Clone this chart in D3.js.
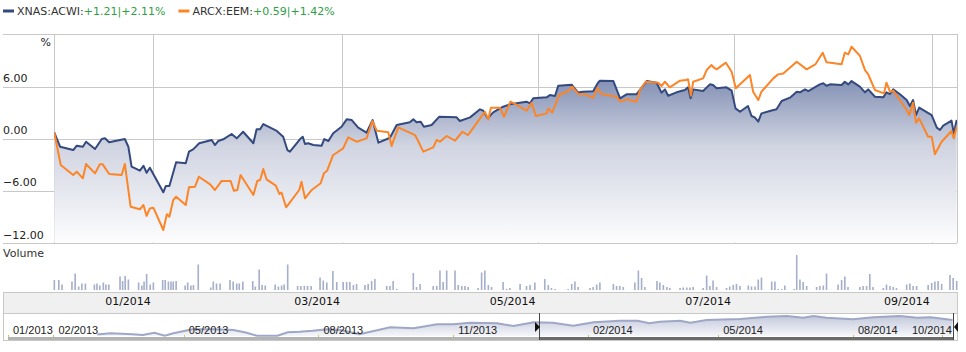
<!DOCTYPE html>
<html>
<head>
<meta charset="utf-8">
<script src="https://cdn.jsdelivr.net/npm/d3@7"></script>
<style>
body{margin:0;background:#fff}
svg{display:block;font-family:"DejaVu Sans",Verdana,sans-serif}
</style>
</head>
<body>
<div id="chart"></div>
<script>
// main chart: days since 2013-12-01 -> % change
const acwi=[[0.1,0.67],[1.9,-0.95],[6.0,-1.33],[7.1,-0.83],[9.0,-0.95],[10.0,-0.37],[12.8,-1.21],[14.9,-0.06],[15.9,0.02],[17.2,-0.44],[22.1,-0.06],[23.2,-0.95],[24.2,-3.25],[26.8,-3.71],[27.9,-3.14],[28.9,-3.95],[29.9,-3.37],[34.1,-6.21],[34.9,-5.48],[36.0,-5.48],[38.1,-2.75],[41.1,-2.86],[42.1,-1.52],[43.4,-1.25],[45.3,-0.55],[49.2,-0.17],[50.2,-0.75],[51.2,-0.29],[52.8,-0.09],[55.4,0.52],[57.0,0.02],[59.0,0.78],[62.2,-0.55],[63.2,1.06],[64.3,1.06],[65.3,1.67],[69.5,0.87],[71.5,0.21],[72.8,-1.33],[73.6,-1.52],[76.7,-0.09],[77.6,0.21],[78.3,-0.63],[79.3,-0.55],[80.9,-0.75],[83.5,-0.83],[84.3,-0.06],[85.6,-0.29],[87.1,0.60],[89.7,1.36],[91.3,2.21],[92.9,2.13],[94.9,1.25],[97.5,0.67],[99.4,2.13],[101.2,-0.48],[104.8,0.09],[106.9,1.56],[111.0,1.87],[112.1,2.21],[113.1,1.87],[114.4,1.94],[115.4,1.36],[117.8,1.56],[120.2,2.52],[125.6,2.44],[126.6,2.02],[129.8,2.44],[132.9,3.37],[133.9,3.21],[135.3,2.33],[137.0,3.02],[140.1,3.67],[142.2,3.94],[144.3,4.06],[147.4,4.25],[148.5,4.06],[149.5,4.64],[153.7,4.75],[154.7,5.02],[156.3,4.90],[157.3,6.09],[161.5,6.21],[163.5,5.30],[164.9,5.40],[168.2,5.45],[169.8,6.48],[170.3,6.67],[174.5,6.63],[176.6,4.64],[178.6,5.10],[181.7,5.10],[184.9,6.63],[188.0,6.44],[189.5,5.29],[190.6,5.67],[191.6,4.94],[194.2,5.33],[196.8,5.60],[197.8,5.91],[198.6,4.64],[199.4,5.67],[202.5,5.48],[204.6,6.25],[205.6,6.17],[206.7,5.79],[209.8,5.91],[211.4,5.52],[212.6,3.48],[214.0,3.09],[216.5,3.75],[217.6,2.60],[218.6,2.44],[219.7,1.94],[220.7,2.90],[223.3,3.17],[225.4,3.37],[227.0,4.33],[229.6,4.71],[231.7,5.40],[232.7,5.33],[234.3,5.67],[235.3,5.48],[238.9,6.25],[240.0,6.37],[241.0,6.09],[242.1,6.25],[245.7,6.17],[246.7,6.55],[247.8,6.25],[248.8,6.63],[251.4,5.98],[253.0,5.33],[254.0,5.67],[256.1,4.82],[258.7,4.75],[259.7,5.33],[260.8,5.13],[261.8,5.67],[263.9,5.10],[266.0,4.44],[267.0,3.75],[268.0,4.44],[268.9,2.71],[269.9,3.56],[273.8,2.71],[275.4,1.25],[276.4,0.98],[277.4,1.48],[280.0,2.06],[280.7,0.60],[281.6,2.13]];

const eem=[[0.1,0.67],[2.1,-3.06],[6.0,-4.21],[7.1,-3.83],[9.0,-4.60],[10.0,-2.94],[12.8,-4.02],[14.3,-2.98],[15.2,-2.98],[17.2,-4.10],[21.1,-4.21],[22.1,-2.94],[23.9,-7.87],[26.8,-8.17],[27.9,-7.67],[28.9,-8.94],[29.9,-8.06],[31.0,-7.98],[34.1,-10.56],[35.2,-8.75],[36.0,-9.02],[37.2,-7.10],[38.1,-6.71],[41.1,-7.67],[42.1,-5.63],[44.0,-5.56],[45.2,-4.41],[48.7,-5.29],[50.2,-5.94],[52.3,-4.90],[55.1,-4.90],[56.1,-6.02],[57.2,-5.94],[58.2,-4.21],[62.2,-6.52],[63.4,-4.90],[64.3,-4.79],[65.3,-3.52],[66.3,-4.71],[69.2,-5.44],[70.3,-6.40],[71.0,-6.25],[72.4,-7.94],[73.6,-7.36],[76.5,-5.94],[77.2,-4.98],[78.3,-6.90],[80.4,-5.94],[83.2,-5.17],[84.2,-4.02],[85.2,-3.71],[87.1,-1.90],[88.2,-1.64],[90.2,-1.13],[91.8,0.14],[94.4,-0.37],[97.5,0.02],[99.3,2.02],[100.7,0.90],[104.3,0.71],[105.3,-0.87],[107.4,1.29],[112.6,0.40],[113.6,-0.29],[115.2,-1.52],[118.3,-1.02],[119.4,-0.17],[120.4,-0.37],[122.5,0.29],[125.1,-0.25],[127.4,0.78],[129.2,0.40],[131.8,1.75],[134.4,3.09],[135.5,2.21],[136.3,3.55],[139.1,3.55],[140.4,2.52],[142.4,4.25],[144.8,3.79],[147.4,3.21],[149.0,4.13],[150.3,2.60],[153.7,2.90],[154.2,3.48],[155.4,2.98],[157.6,5.02],[160.4,5.48],[161.7,5.98],[163.5,5.15],[165.6,5.10],[168.2,4.68],[169.5,5.83],[170.8,5.13],[175.5,4.82],[176.6,4.25],[178.6,4.52],[181.7,4.25],[182.8,5.60],[184.6,6.55],[188.5,6.44],[189.5,6.06],[190.6,6.55],[192.1,5.91],[195.3,6.67],[197.1,6.75],[197.8,6.83],[198.7,4.94],[199.4,6.55],[202.5,6.94],[203.6,7.90],[205.1,8.48],[205.9,8.17],[206.7,7.98],[209.6,8.75],[211.4,7.71],[212.7,5.79],[217.1,7.33],[218.1,5.40],[219.7,4.44],[220.7,5.40],[224.4,6.94],[225.9,7.40],[227.5,7.50],[231.7,8.86],[234.8,7.98],[237.5,8.55],[239.8,9.90],[241.0,8.79],[245.7,8.56],[246.7,9.90],[247.8,9.71],[248.8,10.59],[251.4,9.55],[253.0,7.90],[254.0,7.40],[256.1,5.60],[258.9,5.21],[259.7,6.44],[260.8,5.40],[261.8,5.52],[266.0,3.29],[266.8,2.71],[268.0,4.13],[268.9,1.82],[269.9,2.33],[272.7,0.21],[273.8,0.21],[274.8,-1.82],[276.9,-0.37],[280.0,0.87],[280.7,0.02],[281.6,1.36]];

// volume, millions (same day index)
const volume=[[0.1,2.0],[1.5,2.0],[2.5,1.1],[5.6,1.7],[6.6,3.3],[7.7,0.7],[8.7,1.3],[9.8,1.3],[12.6,1.1],[13.4,1.3],[14.3,0.9],[15.4,1.5],[16.2,1.1],[17.1,1.1],[20.6,2.7],[21.4,1.8],[22.2,2.8],[23.2,2.1],[26.4,1.5],[27.4,0.9],[28.1,1.7],[28.9,3.2],[30.0,1.1],[31.0,1.5],[33.9,2.0],[34.7,2.0],[35.7,1.7],[36.5,1.7],[37.2,1.7],[38.1,1.8],[40.9,0.9],[41.7,1.5],[42.7,0.9],[43.5,1.0],[45.0,5.1],[48.9,0.5],[49.7,1.7],[50.7,1.3],[51.8,1.3],[54.9,2.0],[55.9,1.7],[57.0,1.3],[57.8,1.3],[58.9,1.7],[62.0,1.8],[62.8,0.7],[64.0,4.1],[64.9,1.0],[65.9,0.9],[69.0,1.1],[70.0,0.7],[71.0,0.9],[71.8,1.1],[72.9,5.1],[76.0,0.8],[77.0,0.8],[78.1,0.8],[79.1,0.8],[80.2,0.8],[83.0,2.5],[84.0,1.9],[85.1,1.5],[87.0,3.8],[88.2,1.6],[90.2,1.6],[91.3,1.6],[92.3,1.6],[93.4,1.0],[94.4,1.2],[97.0,1.0],[98.0,1.2],[99.1,1.8],[100.1,2.2],[103.8,0.8],[104.8,0.8],[105.8,1.8],[106.9,0.2],[112.1,3.4],[113.1,0.6],[114.2,1.2],[118.3,0.8],[119.4,0.8],[120.4,3.9],[121.4,1.6],[122.5,3.9],[125.1,3.9],[126.1,1.0],[127.2,0.8],[128.2,0.8],[129.2,0.6],[132.3,0.4],[133.4,3.5],[134.4,3.9],[135.5,1.0],[136.5,0.6],[140.1,1.6],[141.2,0.2],[142.2,0.4],[145.4,1.2],[147.4,0.8],[148.5,1.0],[150.0,1.5],[153.1,2.2],[154.2,1.0],[155.2,0.4],[156.3,0.2],[160.4,0.2],[161.5,1.2],[162.5,1.7],[163.5,0.6],[167.2,0.4],[168.2,0.6],[169.3,1.1],[170.3,1.5],[174.5,1.2],[175.5,0.8],[176.5,0.8],[177.6,0.6],[181.2,1.5],[182.3,3.9],[183.3,2.4],[184.3,0.6],[188.1,1.8],[189.0,1.5],[190.1,1.0],[191.2,0.6],[192.1,0.4],[195.3,0.4],[196.3,0.5],[197.4,0.5],[198.4,0.5],[199.4,0.6],[202.5,0.4],[203.6,2.9],[204.6,0.8],[205.6,1.9],[206.7,0.6],[209.8,0.4],[210.8,0.7],[211.9,1.0],[212.9,1.2],[214.0,0.8],[216.6,0.9],[217.6,0.7],[218.7,0.7],[219.7,2.1],[220.7,2.5],[223.9,1.7],[224.9,1.7],[225.9,0.2],[227.0,0.2],[228.0,0.9],[230.9,0.2],[231.7,7.0],[232.7,2.1],[233.7,1.6],[234.8,0.8],[237.9,0.6],[238.9,0.8],[240.0,0.9],[241.0,3.3],[244.6,1.1],[245.7,2.0],[246.7,2.7],[247.7,0.6],[251.4,0.6],[252.4,0.8],[253.5,0.8],[254.5,3.2],[255.5,0.6],[258.7,0.4],[259.7,1.1],[260.8,0.8],[261.8,0.6],[262.8,0.4],[266.0,1.1],[267.0,1.3],[268.0,0.8],[269.1,0.8],[272.7,1.0],[273.8,1.4],[274.8,1.7],[275.8,1.8],[276.9,1.2],[279.5,3.0],[280.5,2.4],[281.6,1.8]];

// navigator: days since 2013-01-01 -> price
const navPrice=[[61,45.4],[63,45.4],[70,46.2],[85,45.4],[92,44.8],[100,46.6],[107,44.2],[113,46.2],[121,48.2],[126,49.4],[140,49.4],[154,48.8],[163,46.6],[170,44.2],[184,44.2],[191,47.0],[199,47.4],[208,48.2],[218,49.4],[227,48.8],[240,45.4],[261,51.0],[277,50.2],[293,53.4],[304,53.4],[316,54.6],[334,54.2],[345,52.0],[359,55.0],[372,54.6],[386,52.2],[400,55.0],[418,56.2],[430,56.2],[438,54.2],[445,55.4],[459,56.2],[466,54.6],[477,56.8],[500,57.6],[518,59.4],[532,60.0],[543,58.6],[550,60.0],[559,58.6],[577,57.4],[591,59.0],[609,60.0],[621,58.6],[630,59.0],[645,56.8]];

const yTicks=[6,0,-6,-12];
const xTicks=['2014-01-01','2014-03-01','2014-05-01','2014-07-01','2014-09-01'];
const navTicks=['2013-01-01','2013-02-01','2013-05-01','2013-08-01','2013-11-01','2014-02-01','2014-05-01','2014-08-01','2014-10-01'];
const legendItems=[{name:'XNAS:ACWI:',chg:'+1.21|+2.11%',color:'#34497e'},{name:'ARCX:EEM:',chg:'+0.59|+1.42%',color:'#fb8527'}];

const t0=new Date(2013,11,1), n0=new Date(2013,0,1);
const day=(base,d)=>new Date(base.getTime()+d*864e5);
const fmt=d3.timeFormat('%m/%Y'), parse=d3.timeParse('%Y-%m-%d');

const W=966,H=352, L=54,R=957,T=34,B=243, left=3;
const svg=d3.select('#chart').append('svg').attr('width',W).attr('height',H);
const defs=svg.append('defs');

const g1=defs.append('linearGradient').attr('id','mainFill').attr('x1',0).attr('x2',0).attr('y1',0).attr('y2',1);
g1.append('stop').attr('offset',0).attr('stop-color','#8592b6');
g1.append('stop').attr('offset',0.4).attr('stop-color','#d0d4e1');
g1.append('stop').attr('offset',1).attr('stop-color','#fdfdfe');
const g2=defs.append('linearGradient').attr('id','navFill').attr('x1',0).attr('x2',0).attr('y1',0).attr('y2',1);
g2.append('stop').attr('offset',0).attr('stop-color','#c3c9dc');
g2.append('stop').attr('offset',1).attr('stop-color','#f5f6f9');
defs.append('clipPath').attr('id','clip').append('rect').attr('x',L).attr('y',T).attr('width',R-L).attr('height',B-T);

const x=d3.scaleTime().domain([t0,day(t0,281.7)]).range([L,R]);
const y=d3.scaleLinear().domain([-12,12.06]).range([242.5,T]);
const yv=d3.scaleLinear().domain([0,8]).range([290,250]);
const xn=d3.scaleTime().domain([n0,day(n0,646)]).range([8,954]);
const yn=d3.scaleLinear().domain([44,62.4]).range([336,313]);

// legend
const lg=svg.append('g').attr('font-size',11);
let lx=3;
legendItems.forEach(d=>{
  lg.append('rect').attr('x',lx).attr('y',9.5).attr('width',11).attr('height',3).attr('fill',d.color);
  const t=lg.append('text').attr('x',lx+14).attr('y',15).attr('fill','#333');
  t.append('tspan').text(d.name);
  t.append('tspan').attr('fill','#2f9e44').text(d.chg);
  lx+=t.node().getComputedTextLength()+14+13;
});

// grid
const grid=svg.append('g').attr('stroke','#c8c8c8').attr('stroke-width',1).attr('shape-rendering','crispEdges');
grid.append('line').attr('x1',left).attr('x2',R).attr('y1',T).attr('y2',T);
grid.append('line').attr('x1',left).attr('x2',R).attr('y1',B).attr('y2',B);
grid.selectAll('.gy').data(yTicks.filter(v=>v>-12)).join('line')
  .attr('x1',left).attr('x2',R).attr('y1',d=>Math.round(y(d))+.5).attr('y2',d=>Math.round(y(d))+.5);
grid.selectAll('.gx').data([L,R]).join('line')
  .attr('x1',d=>d).attr('x2',d=>d).attr('y1',T).attr('y2',B);
grid.selectAll('.gt').data(xTicks.map(parse)).join('line')
  .attr('x1',d=>Math.round(x(d))).attr('x2',d=>Math.round(x(d))).attr('y1',T).attr('y2',B);

svg.append('g').attr('font-size',11).attr('fill','#222')
  .selectAll('text').data(yTicks).join('text')
  .attr('x',left).attr('y',d=>y(d)-(d===-12?3.5:4.5)).text(d=>d3.format('.2f')(d));
svg.append('text').attr('x',51).attr('y',46).attr('text-anchor','end').attr('font-size',11).attr('fill','#222').text('%');

// series
const plot=svg.append('g').attr('clip-path','url(#clip)');
const pt=d=>x(day(t0,d[0]));
plot.append('path').datum(acwi).attr('fill','url(#mainFill)')
  .attr('d',d3.area().x(pt).y0(y(-12)).y1(d=>y(d[1])));
plot.append('path').datum(acwi).attr('fill','none').attr('stroke','#34497e').attr('stroke-width',2).attr('stroke-linejoin','round')
  .attr('d',d3.line().x(pt).y(d=>y(d[1])));
plot.append('path').datum(eem).attr('fill','none').attr('stroke','#fb8527').attr('stroke-width',2).attr('stroke-linejoin','round')
  .attr('d',d3.line().x(pt).y(d=>y(d[1])));

// volume
svg.append('text').attr('x',left).attr('y',257).attr('font-size',11).attr('fill','#333').text('Volume');
svg.append('g').attr('fill','#a5aeca').selectAll('rect').data(volume).join('rect')
  .attr('x',d=>pt(d)-0.8).attr('width',1.6).attr('y',d=>yv(d[1])).attr('height',d=>yv(0)-yv(d[1]));

// x axis band
svg.append('rect').attr('x',left).attr('y',292.5).attr('width',R-left).attr('height',21)
  .attr('fill','#f0f0f0').attr('stroke','#c8c8c8').attr('shape-rendering','crispEdges');
svg.append('g').attr('font-size',11).attr('fill','#111').selectAll('text').data(xTicks.map(parse)).join('text')
  .attr('x',d=>x(d)-2.5).attr('y',304.5).attr('text-anchor','end').text(fmt);

// navigator
const nav=svg.append('g');
nav.append('rect').attr('x',left+.5).attr('y',313.5).attr('width',R-left).attr('height',27)
  .attr('fill','#fff').attr('stroke','#c8c8c8');
const np=d=>xn(day(n0,d[0]));
nav.append('path').datum(navPrice).attr('fill','url(#navFill)')
  .attr('d',d3.area().x(np).y0(yn(44)).y1(d=>yn(d[1])));
nav.append('path').datum(navPrice).attr('fill','none').attr('stroke','#9ea8c6').attr('stroke-width',2)
  .attr('d',d3.line().x(np).y(d=>yn(d[1])));
const nt=navTicks.map(parse);
nav.selectAll('.tk').data(nt).join('line').attr('stroke','#c4cf3a')
  .attr('x1',d=>Math.round(xn(d))+.5).attr('x2',d=>Math.round(xn(d))+.5).attr('y1',335).attr('y2',337);
nav.selectAll('text').data(nt).join('text')
  .attr('font-family','"Liberation Sans",Arial,sans-serif').attr('font-size',11).attr('fill','#222')
  .attr('x',d=>Math.min(xn(d)+5,951-39)).attr('y',333.5).text(fmt);
const s0=540,s1=954;
nav.append('rect').attr('x',8).attr('y',337).attr('width',s0-8).attr('height',3).attr('fill','#b4b4b4');
nav.append('rect').attr('x',s0).attr('y',337).attr('width',s1-s0).attr('height',3).attr('fill','#6b6b6b');
nav.append('line').attr('x1',s0-.5).attr('x2',s0-.5).attr('y1',313).attr('y2',340).attr('stroke','#444');
nav.append('line').attr('x1',s1-.5).attr('x2',s1-.5).attr('y1',313).attr('y2',340).attr('stroke','#444');
nav.append('path').attr('d',`M${s0-5},322L${s0},327L${s0-5},332Z`).attr('fill','#111');
nav.append('path').attr('d',`M${s1+4},322L${s1},327L${s1+4},332Z`).attr('fill','#111');
</script>
</body>
</html>
